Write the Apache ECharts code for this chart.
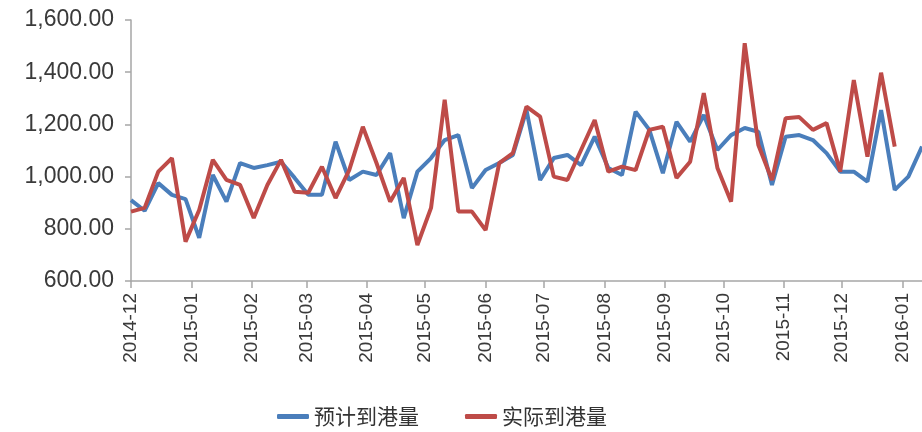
<!DOCTYPE html>
<html>
<head>
<meta charset="utf-8">
<script src="https://cdn.jsdelivr.net/npm/echarts@6/dist/echarts.min.js"></script>
<style>html,body{margin:0;padding:0;background:#fff}#c{width:922px;height:432px}</style>
</head>
<body>
<div id="c"></div>
<script>
var weekDates = ['2014-12-01','2014-12-08','2014-12-15','2014-12-22','2014-12-29',
  '2015-01-05','2015-01-12','2015-01-19','2015-01-26','2015-02-02','2015-02-09','2015-02-16','2015-02-23',
  '2015-03-02','2015-03-09','2015-03-16','2015-03-23','2015-03-30','2015-04-06','2015-04-13','2015-04-20','2015-04-27',
  '2015-05-04','2015-05-11','2015-05-18','2015-05-25','2015-06-01','2015-06-08','2015-06-15','2015-06-22','2015-06-29',
  '2015-07-06','2015-07-13','2015-07-20','2015-07-27','2015-08-03','2015-08-10','2015-08-17','2015-08-24','2015-08-31',
  '2015-09-07','2015-09-14','2015-09-21','2015-09-28','2015-10-05','2015-10-12','2015-10-19','2015-10-26',
  '2015-11-02','2015-11-09','2015-11-16','2015-11-23','2015-11-30','2015-12-07','2015-12-14','2015-12-21','2015-12-28',
  '2016-01-04','2016-01-11'];
var expected = [910,869,975,930,914,765,1006,904,1052,1033,1044,1057,995,930,930,1134,987,1019,1006,1090,841,1019,1071,1140,1159,956,1025,1052,1083,1255,987,1071,1083,1044,1153,1033,1006,1249,1180,1013,1210,1134,1236,1102,1159,1186,1172,968,1153,1159,1140,1090,1019,1019,981,1255,949,1000,1115];
var actual = [866,880,1019,1071,751,872,1064,987,968,841,968,1064,942,938,1038,918,1025,1191,1052,904,995,738,880,1294,866,866,795,1052,1090,1268,1230,1000,987,1102,1217,1019,1038,1025,1179,1191,995,1057,1320,1033,904,1511,1121,987,1224,1228,1179,1205,1019,1370,1076,1398,1115];
var monthTicks = ['2014-12','2015-01','2015-02','2015-03','2015-04','2015-05','2015-06','2015-07','2015-08','2015-09','2015-10','2015-11','2015-12','2016-01'];
var seriesNames = ['预计到港量','实际到港量'];

var DAY = 86400000;
function toDay(s){ var p = s.split('-'); return Date.UTC(+p[0], +p[1]-1, p[2] ? +p[2] : 1) / DAY; }
var tickDays = monthTicks.map(toDay);
function pairs(vals){ return vals.map(function(v,i){ return [toDay(weekDates[i]), v]; }); }

var chart = echarts.init(document.getElementById('c'));
chart.setOption({
  animation: false,
  backgroundColor: '#fff',
  grid: { left: 131, right: 0, top: 20, bottom: 151, containLabel: false },
  xAxis: {
    type: 'value',
    min: toDay(weekDates[0]),
    max: toDay(weekDates[weekDates.length-1]),
    axisLine: { lineStyle: { color: '#a6a6a6', width: 1.5 } },
    axisTick: { show: true, length: 7, customValues: tickDays, lineStyle: { color: '#a6a6a6', width: 1.5 } },
    axisLabel: {
      customValues: tickDays,
      rotate: 90,
      margin: 12,
      color: '#3a3a3a',
      fontSize: 19,
      fontFamily: 'Liberation Sans, Arial, sans-serif',
      formatter: function(v){ var i = tickDays.indexOf(v); return i >= 0 ? monthTicks[i] : ''; }
    },
    splitLine: { show: false }
  },
  yAxis: {
    type: 'value',
    min: 600, max: 1600, interval: 200,
    axisLine: { show: true, lineStyle: { color: '#a6a6a6', width: 1.5 } },
    axisTick: { show: true, inside: false, length: 6, lineStyle: { color: '#a6a6a6', width: 1.5 } },
    axisLabel: {
      margin: 17,
      color: '#3a3a3a',
      fontSize: 23,
      fontFamily: 'Liberation Sans, Arial, sans-serif',
      formatter: function(v){ return v.toLocaleString('en-US', {minimumFractionDigits: 2, maximumFractionDigits: 2}); }
    },
    splitLine: { show: false }
  },
  legend: {
    bottom: 0,
    left: 272,
    itemGap: 46,
    itemWidth: 32,
    itemHeight: 5,
    icon: 'roundRect',
    textStyle: { fontSize: 21, color: '#333', fontFamily: 'Noto Sans CJK SC, sans-serif' },
    data: seriesNames
  },
  series: [
    { name: seriesNames[0], type: 'line', data: pairs(expected), symbol: 'none', color: '#4a7ebb',
      lineStyle: { width: 4, color: '#4a7ebb' }, z: 2 },
    { name: seriesNames[1], type: 'line', data: pairs(actual), symbol: 'none', color: '#be4b48',
      lineStyle: { width: 4, color: '#be4b48' }, z: 3 }
  ]
});
</script>
</body>
</html>
